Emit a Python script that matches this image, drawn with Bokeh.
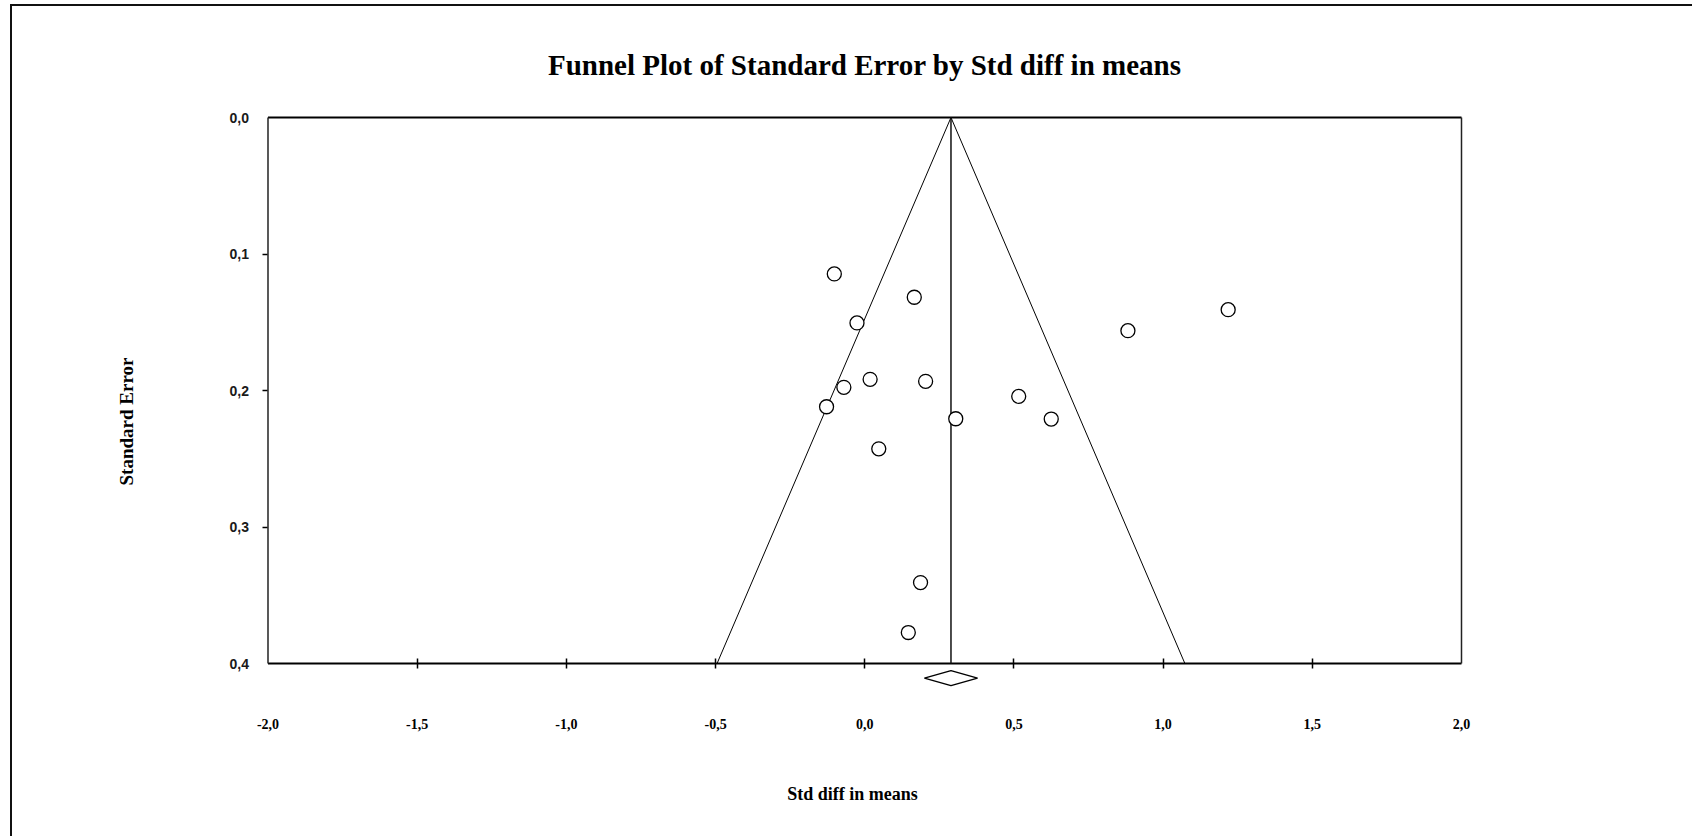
from bokeh.plotting import figure
from bokeh.models import (Range1d, FixedTicker, CustomJSTickFormatter,
                          ColumnDataSource, LinearAxis)
from bokeh.core.properties import value
from bokeh.embed import file_html
from bokeh.resources import INLINE

# ---- data ----
std_diff = [-0.102, 0.166, -0.026, 1.218, 0.882, 0.018, -0.070, 0.204, -0.128,
            0.305, 0.516, 0.625, 0.047, 0.187, 0.146]
std_err = [0.1146, 0.1317, 0.1505, 0.1408, 0.1562, 0.1918, 0.1977, 0.1933, 0.2119,
           0.2207, 0.2043, 0.2209, 0.2427, 0.3407, 0.3773]
pooled_effect = 0.289
pooled_ci = [0.200, 0.378]
se_max = 0.4
x_ticks = [-2.0, -1.5, -1.0, -0.5, 0.0, 0.5, 1.0, 1.5, 2.0]
y_ticks = [0.0, 0.1, 0.2, 0.3, 0.4]
title_text = "Funnel Plot of Standard Error by Std diff in means"
x_label = "Std diff in means"
y_label = "Standard Error"

serif = "Liberation Serif"

# The data frame covers the whole canvas; axes are pinned at the plot box edges.
p = figure(output_backend="svg", toolbar_location=None,
           frame_width=1680, frame_height=830,
           min_border=0, min_border_left=0, min_border_right=0,
           min_border_top=0, min_border_bottom=0,
           x_range=Range1d(-2.8563, 2.7742),
           y_range=Range1d(0.52674, -0.08132))
p.title.visible = False
p.styles = {"border-top": "2px solid #111", "border-left": "2px solid #111",
            "margin-left": "10px", "margin-top": "4px"}
p.grid.visible = False
p.outline_line_color = None
p.background_fill_color = "white"
p.border_fill_color = "white"

fmt = CustomJSTickFormatter(code="return tick.toFixed(1).replace('.', ',');")
blank = CustomJSTickFormatter(code="return '';")

x0, x1 = x_ticks[0], x_ticks[-1]
y0, y1 = y_ticks[0], y_ticks[-1]

# x axis: labels
xa = p.xaxis[0]
xa.fixed_location = y1
xa.ticker = FixedTicker(ticks=x_ticks)
xa.formatter = fmt
xa.axis_line_color = None
xa.major_tick_in = 0
xa.major_tick_out = 0
xa.minor_tick_line_color = None
xa.major_label_standoff = 55
xa.major_label_text_font = serif
xa.major_label_text_font_style = "bold"
xa.major_label_text_font_size = "14px"
xa.major_label_text_color = "black"
xa.axis_label = x_label
xa.axis_label_text_font = serif
xa.axis_label_text_font_style = "bold"
xa.axis_label_text_font_size = "18px"
xa.axis_label_text_color = "black"
xa.axis_label_standoff = 52

# x axis: tick marks (inner ticks only)
xt = LinearAxis(fixed_location=y1, ticker=FixedTicker(ticks=x_ticks[1:-1]),
                formatter=blank, axis_line_color=None, major_tick_in=5,
                major_tick_out=5, major_tick_line_color="black",
                minor_tick_line_color=None, major_tick_line_width=1.5)
p.add_layout(xt, "below")

# y axis: labels
ya = p.yaxis[0]
ya.fixed_location = x0
ya.ticker = FixedTicker(ticks=y_ticks)
ya.formatter = fmt
ya.axis_line_color = None
ya.major_tick_in = 0
ya.major_tick_out = 0
ya.minor_tick_line_color = None
ya.major_label_standoff = 19
ya.major_label_text_font = "Liberation Sans"
ya.major_label_text_font_style = "bold"
ya.major_label_text_font_size = "14px"
ya.major_label_text_color = "#1a1a1a"
ya.axis_label = y_label
ya.axis_label_text_font = serif
ya.axis_label_text_font_style = "bold"
ya.axis_label_text_font_size = "19px"
ya.axis_label_text_color = "black"
ya.axis_label_standoff = 89

# y axis: tick marks (inner ticks only)
yt = LinearAxis(fixed_location=x0, ticker=FixedTicker(ticks=y_ticks[1:-1]),
                formatter=blank, axis_line_color=None, major_tick_in=0,
                major_tick_out=5, major_tick_line_color="black",
                minor_tick_line_color=None, major_tick_line_width=1.5)
p.add_layout(yt, "left")

# title
p.text(x=[(x0 + x1) / 2], y=[-0.0385], text=[title_text], text_align="center",
       text_baseline="middle", text_font=value(serif), text_font_size=value("29px"),
       text_font_style="bold", text_color="black")

# plot box
p.line([x0, x1], [y0, y0], line_color="black", line_width=2)
p.line([x0, x1], [y1, y1], line_color="black", line_width=2)
p.line([x0, x0], [y0, y1], line_color="#222222", line_width=1.5)
p.line([x1, x1], [y0, y1], line_color="#222222", line_width=1.5)

# funnel (95% pseudo-confidence limits)
lo_x = pooled_effect - 1.96 * se_max
hi_x = pooled_effect + 1.96 * se_max
p.line([lo_x, pooled_effect, hi_x], [se_max, 0.0, se_max], line_color="black", line_width=1)
p.line([pooled_effect, pooled_effect], [0.0, se_max], line_color="#111111", line_width=1.5)

src = ColumnDataSource(dict(x=std_diff, y=std_err))
p.scatter("x", "y", source=src, size=14, marker="circle", fill_color="white",
          line_color="black", line_width=1.3)

# summary diamond below the funnel
dy = 0.0107
dh = 0.0055
p.patch([pooled_ci[0], pooled_effect, pooled_ci[1], pooled_effect],
        [se_max + dy, se_max + dy - dh, se_max + dy, se_max + dy + dh],
        fill_color="white", line_color="black", line_width=1.5)

open("out.html", "w").write(file_html(p, INLINE))
